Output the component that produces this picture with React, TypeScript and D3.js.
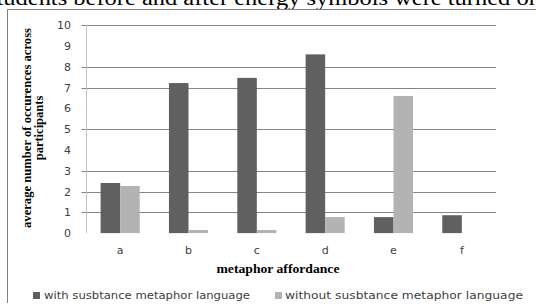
import React from "react";
import * as d3 from "d3";

const categories = ["a", "b", "c", "d", "e", "f"];
const withSubstance = [2.41, 7.22, 7.47, 8.6, 0.77, 0.86];
const withoutSubstance = [2.27, 0.15, 0.15, 0.77, 6.6, 0];
const tickValues = [0, 1, 2, 3, 4, 5, 6, 7, 8, 9, 10];
const gridValues = [1, 2, 3, 5, 7, 8, 10];
const seriesNames = ["with susbtance metaphor language", "without susbtance metaphor language"];
const colors = ["#606060", "#b3b3b3"];

export default function App() {
  const W = 536, H = 307;
  const x = d3.scaleBand<string>().domain(categories).range([86, 496]).paddingInner(0.428).paddingOuter(0.214);
  const sub = d3.scaleBand<number>().domain([0, 1]).range([0, x.bandwidth()]);
  const y = d3.scaleLinear().domain([0, 10]).range([233.1, 25.3]);
  const series = [withSubstance, withoutSubstance];
  const sans = "'DejaVu Sans', sans-serif";
  const serif = "'Liberation Serif', 'Times New Roman', serif";
  return (
    <svg width={W} height={H} style={{ position: "absolute", left: 0, top: 0, background: "#fff" }}>
      <text x={-13} y={5} fontFamily={serif} fontSize={20} textLength={560} lengthAdjust="spacingAndGlyphs" fill="#000">
        students before and after energy symbols were turned on.
      </text>
      <line x1={7.5} y1={9.5} x2={536} y2={9.5} stroke="#808080" />
      <line x1={7.5} y1={9.5} x2={7.5} y2={303} stroke="#808080" />
      {gridValues.map((v) => (
        <line key={"g" + v} x1={81.5} x2={496} y1={Math.round(y(v)) + 0.5} y2={Math.round(y(v)) + 0.5} stroke="#868686" />
      ))}
      <line x1={86.5} x2={86.5} y1={y(10)} y2={y(0)} stroke="#c4c4c4" />
      {tickValues.map((v) => (
        <text key={"t" + v} x={71} y={y(v) + 4} textAnchor="end" fontFamily={sans} fontSize={11} fill="#404040">
          {v}
        </text>
      ))}
      {series.map((vals, si) =>
        vals.map((v, i) => (
          <rect
            key={si + "-" + i}
            x={(x(categories[i]) as number) + (sub(si) as number)}
            y={y(v)}
            width={sub.bandwidth()}
            height={y(0) - y(v)}
            fill={colors[si]}
          />
        ))
      )}
      {categories.map((c) => (
        <text key={"c" + c} x={(x(c) as number) + x.bandwidth() / 2} y={254} textAnchor="middle" fontFamily={sans} fontSize={11} fill="#404040">
          {c}
        </text>
      ))}
      <text x={278} y={273} textAnchor="middle" fontFamily={serif} fontWeight="bold" fontSize={12.5} textLength={123} lengthAdjust="spacingAndGlyphs" fill="#000">
        metaphor affordance
      </text>
      <g transform="translate(31,128) rotate(-90)">
        <text x={0} y={0} textAnchor="middle" fontFamily={serif} fontWeight="bold" fontSize={12.5} textLength={200} lengthAdjust="spacingAndGlyphs" fill="#000">
          average number of occurences across
        </text>
        <text x={0} y={11.5} textAnchor="middle" fontFamily={serif} fontWeight="bold" fontSize={12.5} fill="#000">
          participants
        </text>
      </g>
      <rect x={33} y={292} width={7} height={7} fill={colors[0]} />
      <text x={44} y={299} fontFamily={sans} fontSize={11} textLength={206} lengthAdjust="spacingAndGlyphs" fill="#404040">
        {seriesNames[0]}
      </text>
      <rect x={275} y={292} width={7} height={7} fill={colors[1]} />
      <text x={285} y={299} fontFamily={sans} fontSize={11} textLength={238} lengthAdjust="spacingAndGlyphs" fill="#404040">
        {seriesNames[1]}
      </text>
    </svg>
  );
}
